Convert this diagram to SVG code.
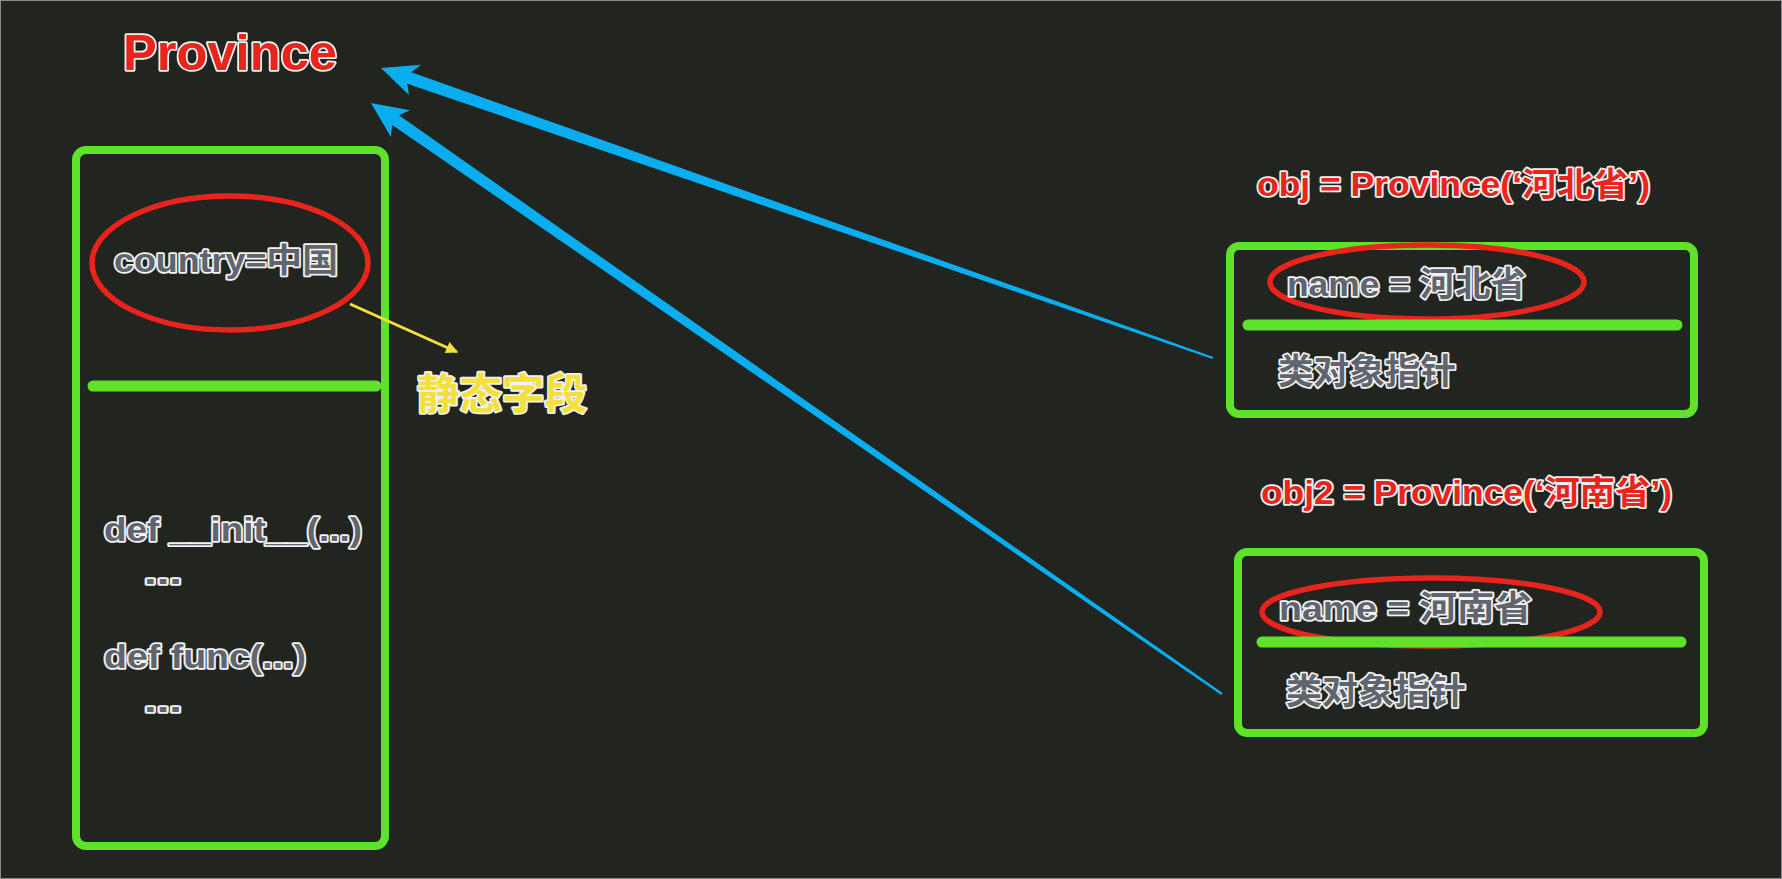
<svg xmlns="http://www.w3.org/2000/svg" width="1782" height="879" viewBox="0 0 1782 879">
<defs>
<style>
.t{font-family:"Liberation Sans","Noto Sans CJK SC",sans-serif;font-weight:bold;paint-order:stroke;stroke:#f2f2f2;stroke-width:3.5;stroke-linejoin:round}
.gray{fill:#60656d}
.red{fill:#e8241d}
.yel{fill:#f4e03a}
.box{fill:none;stroke:#5ee22b;stroke-width:8}
.div{stroke:#5ee22b;stroke-width:11;stroke-linecap:round}
.ell{fill:none;stroke:#e8241d;stroke-width:5.5}
.blue{fill:#0aaef0}
</style>
<marker id="yh" viewBox="0 0 10 10" refX="9" refY="5" markerWidth="5" markerHeight="4" orient="auto" markerUnits="strokeWidth">
<path d="M0,0 L10,5 L0,10 Z" fill="#f4e03a"/>
</marker>
</defs>
<rect x="0" y="0" width="1782" height="879" fill="#22251f"/>
<rect x="0.5" y="0.5" width="1781" height="878" fill="none" stroke="#8a8a8a" stroke-width="1"/>

<g id="title">
<text class="t red" x="123" y="70" font-size="50" textLength="214" lengthAdjust="spacingAndGlyphs">Province</text>
</g>

<g id="class-box">
<rect class="box" x="76" y="150" width="309" height="696" rx="10"/>
<ellipse class="ell" cx="230" cy="263" rx="138" ry="67"/>
<text class="t gray" x="114" y="272" font-size="33" textLength="224" lengthAdjust="spacingAndGlyphs">country=中国</text>
<line class="div" x1="93" y1="386" x2="376" y2="386"/>
<text class="t gray" x="104" y="541" font-size="33" textLength="258" lengthAdjust="spacingAndGlyphs">def __init__(...)</text>
<text class="t gray" x="144" y="584" font-size="33" textLength="38" lengthAdjust="spacingAndGlyphs">...</text>
<text class="t gray" x="104" y="668" font-size="33" textLength="202" lengthAdjust="spacingAndGlyphs">def func(...)</text>
<text class="t gray" x="144" y="712" font-size="33" textLength="38" lengthAdjust="spacingAndGlyphs">...</text>
</g>

<g id="static-label">
<text class="t yel" x="417" y="409" font-size="42" textLength="170" lengthAdjust="spacingAndGlyphs">静态字段</text>
</g>

<g id="obj1">
<text class="t red" x="1257" y="196" font-size="33" textLength="393" lengthAdjust="spacingAndGlyphs">obj = Province(‘河北省’)</text>
<rect class="box" x="1230" y="246" width="464" height="168" rx="9"/>
<ellipse class="ell" cx="1427" cy="282" rx="157" ry="37"/>
<text class="t gray" x="1287" y="296" font-size="34" textLength="239" lengthAdjust="spacingAndGlyphs">name = 河北省</text>
<line class="div" x1="1248" y1="325" x2="1677" y2="325"/>
<text class="t gray" x="1278" y="384" font-size="35" textLength="178" lengthAdjust="spacingAndGlyphs">类对象指针</text>
</g>

<g id="obj2">
<text class="t red" x="1261" y="504" font-size="33" textLength="411" lengthAdjust="spacingAndGlyphs">obj2 = Province(‘河南省’)</text>
<rect class="box" x="1238" y="552" width="466" height="181" rx="9"/>
<ellipse class="ell" cx="1431" cy="612" rx="169" ry="34"/>
<text class="t gray" x="1279" y="620" font-size="34" textLength="253" lengthAdjust="spacingAndGlyphs">name = 河南省</text>
<line class="div" x1="1262" y1="642" x2="1681" y2="642"/>
<text class="t gray" x="1286" y="704" font-size="35" textLength="180" lengthAdjust="spacingAndGlyphs">类对象指针</text>
</g>

<g id="connectors">
<line x1="350" y1="304" x2="457" y2="352" stroke="#f4e03a" stroke-width="3" marker-end="url(#yh)"/>
<polygon class="blue" points="1213.4,356.9 411.3,72.3 421.0,64.8 381,68 409.0,95.0 407.3,83.7 1212.6,359.1"/>
<polygon class="blue" points="1222.7,693.0 399.0,115.3 410.1,110.3 371,103 390.9,136.9 392.2,125.1 1221.3,695.0"/>
</g>
</svg>
